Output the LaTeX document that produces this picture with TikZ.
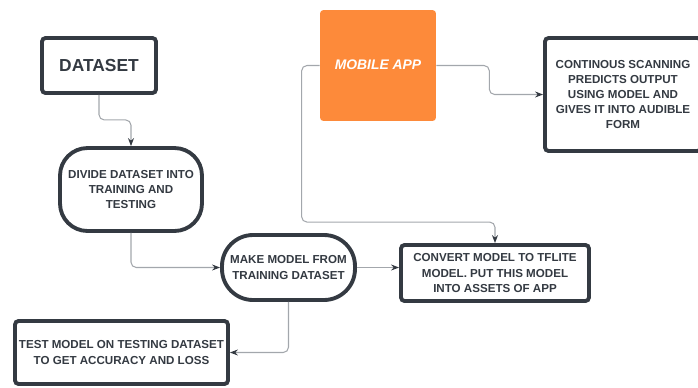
\documentclass[tikz,border=0pt]{standalone}
\usepackage{fontspec}
\setmainfont{Liberation Sans}
\usetikzlibrary{arrows.meta,positioning,calc}
\definecolor{BoxDark}{HTML}{343A42}
\definecolor{LinkGray}{HTML}{A3A7AC}
\definecolor{AppOrange}{HTML}{FD8A3A}

\begin{document}
\begin{tikzpicture}[x=0.02cm, y=-0.02cm,
    box/.style={draw=BoxDark, line width=2.2pt, fill=white, rounded corners=2pt, font=\bfseries\fontsize{6.6}{8.6}\selectfont, text=BoxDark, align=center, inner sep=2pt},
    pill/.style={box, rounded corners=0.55cm},
    appbox/.style={fill=AppOrange, rounded corners=2pt, text=white, font=\bfseries\itshape\fontsize{7.9}{9}\selectfont, minimum width=2.32cm, minimum height=2.22cm},
    arr/.style={-{Stealth[length=1.6mm, width=1.2mm, color=BoxDark]}, draw=LinkGray, line width=0.6pt, rounded corners=3pt}
  ]
    \clip (0,0) rectangle (698,387);

    \node[box, font=\bfseries\fontsize{9.9}{11}\selectfont, minimum width=2.28cm, minimum height=1.1cm] (dset) at (99, 65.5) {DATASET};
    \node[pill, minimum width=2.84cm, minimum height=1.66cm] (divide) at (131, 189.5) {DIVIDE DATASET INTO\\TRAINING AND\\TESTING};
    \node[pill, minimum width=2.66cm, minimum height=1.3cm, rounded corners=0.62cm] (make) at (288.5, 267.5) {MAKE MODEL FROM\\TRAINING DATASET};
    \node[box, minimum width=4.26cm, minimum height=1.26cm] (test) at (121.5, 352.5) {TEST MODEL ON TESTING DATASET\\TO GET ACCURACY AND LOSS};
    \node[box, minimum width=3.76cm, minimum height=1.12cm] (convert) at (495, 273) {CONVERT MODEL TO TFLITE\\MODEL. PUT THIS MODEL\\INTO ASSETS OF APP};
    \node[appbox] (app) at (378, 65.5) {\raisebox{1pt}{MOBILE APP}};
    \node[box, minimum width=3.12cm, minimum height=2.26cm] (scan) at (623, 94.5) {CONTINOUS SCANNING\\PREDICTS OUTPUT\\USING MODEL AND\\GIVES IT INTO AUDIBLE\\FORM};

    \draw[arr] (dset.south) -- ++(0,25) -| (divide.north);
    \draw[arr] (divide.south) |- (make.west);
    \draw[arr] (make.east) -- (make.east -| convert.west);
    \draw[arr] (make.south) |- (test.east);
    \draw[arr] (app.west) -- ++(-18,0) |- ($(convert.north)+(0,-21)$) -- (convert.north);
    \draw[arr] (app.east) -- ++(53,0) |- (scan.west);
  \end{tikzpicture}
\end{document}
